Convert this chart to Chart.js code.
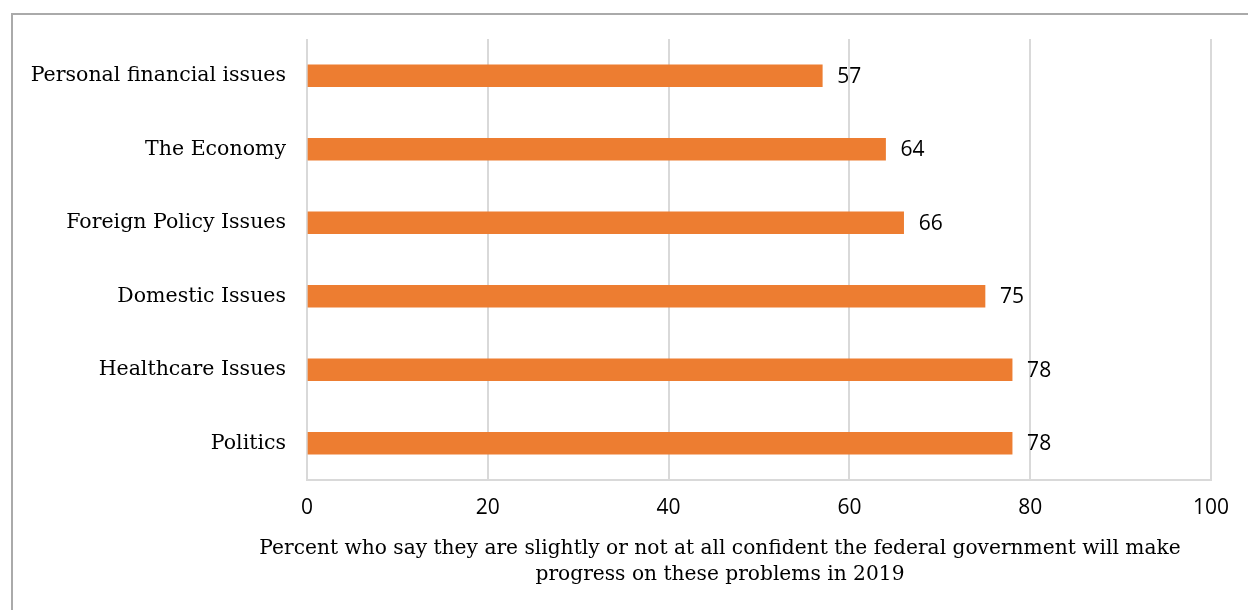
<!DOCTYPE html>
<html>
<head>
<meta charset="utf-8">
<script src="https://cdn.jsdelivr.net/npm/chart.js@4"></script>
<style>
	html, body { margin: 0; padding: 0; background: #ffffff; }
	#wrap { position: relative; width: 1248px; height: 610px; }
</style>
</head>
<body>
<div id="wrap">
	<canvas id="confidenceChart" width="1248" height="610"></canvas>
</div>
<script>
let issueNames = ["Personal financial issues", "The Economy", "Foreign Policy Issues", "Domestic Issues", "Healthcare Issues", "Politics"];
let notConfident = [57, 64, 66, 75, 78, 78];
let xTicks = [0, 20, 40, 60, 80, 100];
let axisTitle = ["Percent who say they are slightly or not at all confident the federal government will make", "progress on these problems in 2019"];

let barColor = 'rgb(237, 125, 49)';
let gridColor = 'rgb(217, 217, 217)';
let serifFont = '"DejaVu Serif", "Liberation Serif", serif';
let numberFont = '"Open Sans", "DejaVu Sans", sans-serif';

// frame around the chart box
const framePlugin = {
	id: 'frame',
	beforeDraw(chart) {
		let ctx = chart.ctx;
		ctx.save();
		ctx.strokeStyle = 'rgb(170, 170, 170)';
		ctx.lineWidth = 2;
		ctx.beginPath();
		ctx.moveTo(12, chart.height);
		ctx.lineTo(12, 14);
		ctx.lineTo(chart.width, 14);
		ctx.stroke();
		ctx.restore();
	}
};

// value written to the right of each bar
const valueLabels = {
	id: 'valueLabels',
	afterDatasetsDraw(chart) {
		let ctx = chart.ctx;
		let meta = chart.getDatasetMeta(0);
		ctx.save();
		ctx.font = '21px ' + numberFont;
		ctx.fillStyle = '#000000';
		ctx.textAlign = 'left';
		ctx.textBaseline = 'middle';
		meta.data.forEach((bar, i) => {
			ctx.fillText(String(notConfident[i]), bar.x + 15, bar.y + 1);
		});
		ctx.restore();
	}
};

// two-line title under the x axis
const xTitle = {
	id: 'xTitle',
	afterDraw(chart) {
		let ctx = chart.ctx;
		let area = chart.chartArea;
		let cx = (area.left + area.right) / 2 - 39;
		ctx.save();
		ctx.font = '20.2px ' + serifFont;
		ctx.fillStyle = '#000000';
		ctx.textAlign = 'center';
		ctx.textBaseline = 'middle';
		axisTitle.forEach((line, i) => {
			ctx.fillText(line, cx, area.bottom + 69 + i * 26);
		});
		ctx.restore();
	}
};

let target = document.getElementById('confidenceChart');
new Chart(target, {
	type: 'bar',
	data: {
		labels: issueNames,
		datasets: [{
			label: 'not confident',
			data: notConfident,
			backgroundColor: barColor,
			barThickness: 22
		}]
	},
	options: {
		indexAxis: 'y',
		responsive: false,
		animation: false,
		layout: {
			padding: { left: 0, right: 37, top: 39, bottom: 0 }
		},
		plugins: {
			legend: { display: false },
			tooltip: { enabled: false }
		},
		scales: {
			x: {
				min: 0,
				max: 100,
				afterBuildTicks: function(scale) {
					scale.ticks = xTicks.map(v => ({ value: v }));
				},
				afterFit: function(scale) {
					scale.height = 130;
				},
				grid: {
					color: gridColor,
					lineWidth: 2,
					drawTicks: false
				},
				border: { display: true, color: gridColor, width: 2 },
				ticks: {
					padding: 15,
					color: '#000000',
					font: { family: numberFont, size: 21 }
				}
			},
			y: {
				afterFit: function(scale) {
					scale.width = 307;
				},
				grid: { display: false, drawTicks: false },
				border: { display: false },
				ticks: {
					padding: 21,
					color: '#000000',
					font: { family: serifFont, size: 20.5 }
				}
			}
		}
	},
	plugins: [framePlugin, valueLabels, xTitle]
});
</script>
</body>
</html>
